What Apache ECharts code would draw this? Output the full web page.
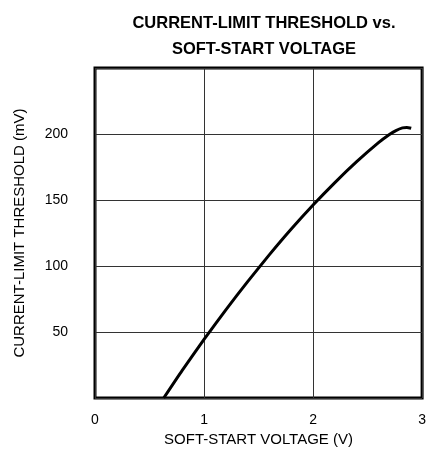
<!DOCTYPE html>
<html>
<head>
<meta charset="utf-8">
<script src="https://cdn.jsdelivr.net/npm/echarts@6/dist/echarts.min.js"></script>
<style>
html,body{margin:0;padding:0;background:#fff;}
#chart{width:429px;height:455px;}
</style>
</head>
<body>
<div id="chart"></div>
<script>
var softStartVoltage = [0.63, 0.8, 1.0,  1.2,  1.4,  1.6,   1.8, 2.0,   2.2,   2.4, 2.6,   2.7,   2.76,  2.82,  2.86, 2.9];
var threshold =        [0,    21,  44.4, 66.8, 88.2, 108.6, 128, 146.2, 163.2, 179, 193.4, 199.6, 202.6, 204.6, 205,  204.3];
var xTickLabels = ['0', '1', '2', '3'];
var yTickLabels = ['50', '100', '150', '200'];
var titleText = 'CURRENT-LIMIT THRESHOLD vs.\nSOFT-START VOLTAGE';
var xName = 'SOFT-START VOLTAGE (V)';
var yName = 'CURRENT-LIMIT THRESHOLD (mV)';

var chart = echarts.init(document.getElementById('chart'), null, {renderer: 'canvas'});
var font = 'Liberation Sans, Arial, sans-serif';
chart.setOption({
  animation: false,
  backgroundColor: '#fff',
  title: {
    text: titleText,
    left: 259, top: 5, textAlign: 'center',
    textStyle: {fontFamily: font, fontSize: 16.5, fontWeight: 'bold', color: '#000', lineHeight: 26, align: 'center'}
  },
  grid: {left: 95, top: 68, right: 6, bottom: 57, show: true, borderColor: '#000', borderWidth: 3, backgroundColor: 'transparent'},
  xAxis: {
    type: 'value', min: 0, max: 3, interval: 1,
    name: xName, nameLocation: 'middle', nameGap: 33,
    nameTextStyle: {fontFamily: font, fontSize: 15, color: '#000'},
    axisLine: {show: false}, axisTick: {show: false},
    axisLabel: {fontFamily: font, fontSize: 14, color: '#000', margin: 15,
      formatter: function (v) { var s = String(v); return xTickLabels.indexOf(s) >= 0 ? s : ''; }},
    splitLine: {show: true, lineStyle: {color: '#333', width: 1}}
  },
  yAxis: {
    type: 'value', min: 0, max: 250, interval: 50,
    name: yName, nameLocation: 'middle', nameGap: 68,
    nameTextStyle: {fontFamily: font, fontSize: 15, color: '#000'},
    axisLine: {show: false}, axisTick: {show: false},
    axisLabel: {fontFamily: font, fontSize: 14, color: '#000', margin: 27,
      formatter: function (v) { var s = String(v); return yTickLabels.indexOf(s) >= 0 ? s : ''; }},
    splitLine: {show: true, lineStyle: {color: '#333', width: 1}}
  },
  series: [{
    type: 'line', smooth: 0.2, symbol: 'none',
    data: softStartVoltage.map(function (x, i) { return [x, threshold[i]]; }),
    lineStyle: {color: '#000', width: 3}
  }]
});
</script>
</body>
</html>
